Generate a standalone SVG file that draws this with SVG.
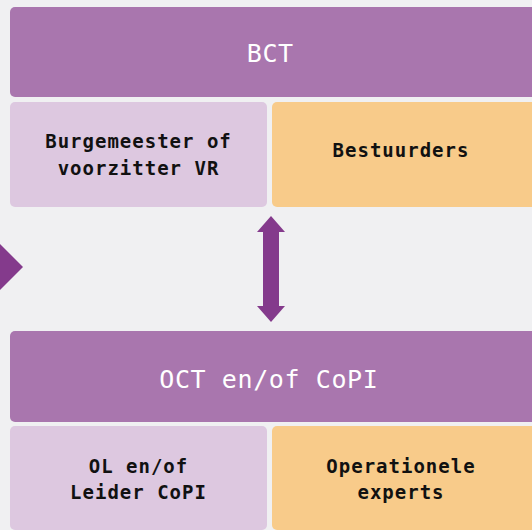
<svg xmlns="http://www.w3.org/2000/svg" width="532" height="530" viewBox="0 0 532 530">
<style>
.bg{fill:#F0F0F2}
.head{fill:#A976AE}
.lp{fill:#DDC8E0}
.or{fill:#F8CB8A}
.arrow{fill:#843A8C}
.t{font-family:"DejaVu Sans Mono","Liberation Mono",monospace;text-anchor:middle}
.ht{font-size:25px;fill:#FFFFFF;letter-spacing:0.6px}
.st{font-size:19px;font-weight:bold;fill:#111111;letter-spacing:1px}
</style>
<rect class="bg" x="0" y="0" width="532" height="530"/>
<g id="bct">
<rect class="head" x="10" y="7" width="540" height="90" rx="5"/>
<text class="t ht" x="270.3" y="62">BCT</text>
</g>
<g id="burgemeester">
<rect class="lp" x="10" y="102" width="257" height="105" rx="5"/>
<text class="t st" x="138.5" y="148">Burgemeester of</text>
<text class="t st" x="138.5" y="175">voorzitter VR</text>
</g>
<g id="bestuurders">
<rect class="or" x="272" y="102" width="270" height="105" rx="5"/>
<text class="t st" x="401" y="157">Bestuurders</text>
</g>
<g id="oct">
<rect class="head" x="10" y="331" width="540" height="91" rx="5"/>
<text class="t ht" x="268.8" y="388">OCT en/of CoPI</text>
</g>
<g id="ol">
<rect class="lp" x="10" y="426" width="257" height="104" rx="5"/>
<text class="t st" x="138.5" y="473">OL en/of</text>
<text class="t st" x="138.5" y="499">Leider CoPI</text>
</g>
<g id="experts">
<rect class="or" x="272" y="426" width="270" height="104" rx="5"/>
<text class="t st" x="401" y="473">Operationele</text>
<text class="t st" x="401" y="499">experts</text>
</g>
<g id="connectors">
<polygon class="arrow" points="-10,234 0,244 23,267 0,290 -10,300"/>
<polygon class="arrow" points="271,216 285,232 279,232 279,306 285,306 271,322 257,306 263,306 263,232 257,232"/>
</g>
</svg>
